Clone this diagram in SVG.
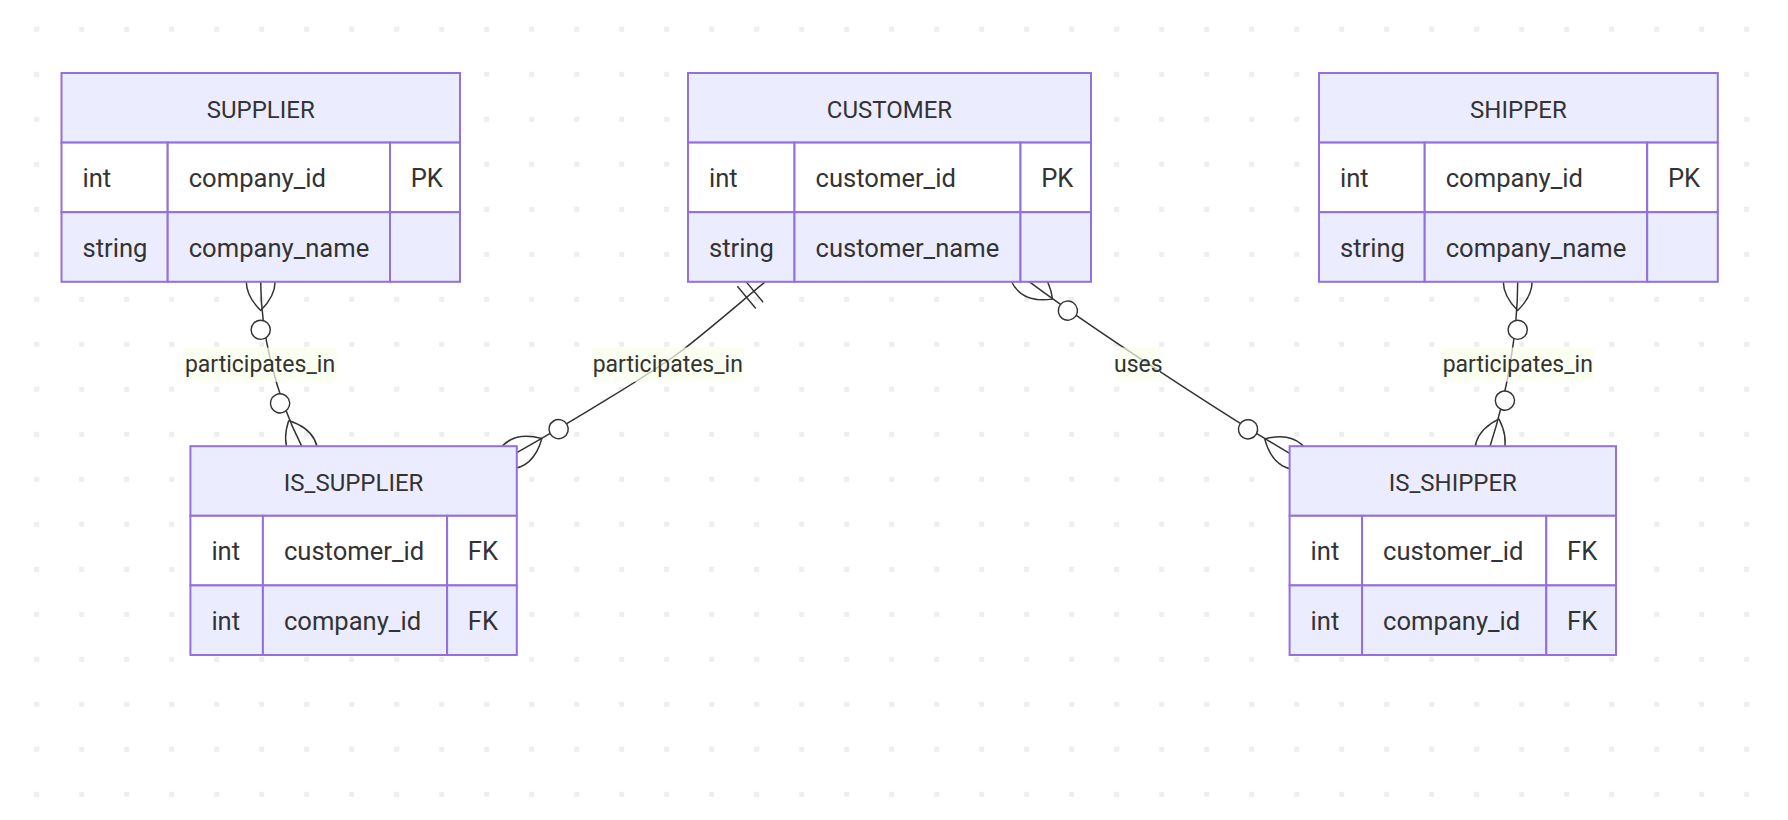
<svg xmlns="http://www.w3.org/2000/svg" width="1788" height="820" viewBox="0 0 1788 820">
<style>
.hdr{fill:#ECECFF;stroke:#9370DB;stroke-width:2}
.odd{fill:#ffffff;stroke:#9370DB;stroke-width:2}
.even{fill:#ECECFF;stroke:#9370DB;stroke-width:2}
.t{font-family:Roboto,"Noto Sans",sans-serif;font-size:25.6px;fill:#333333}
.h{font-family:Roboto,"Noto Sans",sans-serif;font-size:24px;fill:#333333;text-anchor:middle}
.rel{fill:none;stroke:#333333;stroke-width:1.5}
.lblbox{fill:#f9ffec;opacity:0.7}
.lbl{font-family:Roboto,"Noto Sans",sans-serif;font-size:23px;fill:#333333;text-anchor:middle}
.mk{fill:none;stroke:#333333;stroke-width:0.9}
.mkc{fill:#ffffff;stroke:#333333;stroke-width:0.9}
</style>
<defs>
<pattern id="dots" x="34.2" y="26.8" width="45" height="45" patternUnits="userSpaceOnUse">
<rect width="5" height="5" fill="#eeeeee"/>
</pattern>
<marker id="zomStart" viewBox="0 0 57 36" markerUnits="userSpaceOnUse" markerWidth="91.2" markerHeight="57.6" refX="18" refY="18" orient="auto" overflow="visible">
<circle class="mkc" cx="48" cy="18" r="6"/>
<path class="mk" d="M0,18 Q18,0 36,18 Q18,36 0,18"/>
</marker>
<marker id="zomEnd" viewBox="0 0 57 36" markerUnits="userSpaceOnUse" markerWidth="91.2" markerHeight="57.6" refX="39" refY="18" orient="auto" overflow="visible">
<circle class="mkc" cx="9" cy="18" r="6"/>
<path class="mk" d="M21,18 Q39,0 57,18 Q39,36 21,18"/>
</marker>
<marker id="oneStart" viewBox="0 0 18 18" markerUnits="userSpaceOnUse" markerWidth="28.8" markerHeight="28.8" refX="0" refY="9" orient="auto" overflow="visible">
<path class="mk" d="M9,0 L9,18 M15,0 L15,18"/>
</marker>
</defs>
<rect x="0" y="0" width="1788" height="820" fill="#ffffff"/>
<rect x="0" y="0" width="1788" height="820" fill="url(#dots)"/>

<g id="connectors">
<path class="rel" d="M260.7,281.8 C260.7,332 274.9,393.2 301.7,446.2" marker-start="url(#zomStart)" marker-end="url(#zomEnd)"/>
<path class="rel" d="M765,282 C735,307 705,333 680,352 S568.9,423.3 516.8,452.7" marker-start="url(#oneStart)" marker-end="url(#zomEnd)"/>
<path class="rel" d="M1029.5,281.8 C1085.4,323.8 1229,418.3 1289.6,453.3" marker-start="url(#zomStart)" marker-end="url(#zomEnd)"/>
<path class="rel" d="M1517.7,281.8 C1517.7,332 1507.2,393.5 1490,446.2" marker-start="url(#zomStart)" marker-end="url(#zomEnd)"/>
<rect class="lblbox" x="183.3" y="347.6" width="153.4" height="34.2"/>
<text class="lbl" x="260" y="372.3">participates_in</text>
<rect class="lblbox" x="591.7" y="347.5" width="152.3" height="34.2"/>
<text class="lbl" x="667.8" y="372.3">participates_in</text>
<rect class="lblbox" x="1116.7" y="347.5" width="43.3" height="34.2"/>
<text class="lbl" x="1138.3" y="372.3">uses</text>
<rect class="lblbox" x="1441.7" y="347.5" width="152.3" height="34.2"/>
<text class="lbl" x="1517.8" y="372.3">participates_in</text>
</g>

<g id="SUPPLIER">
<rect class="hdr" x="61.5" y="73" width="398.5" height="69.6"/>
<rect class="odd" x="61.5" y="142.6" width="106.2" height="69.6"/>
<rect class="odd" x="167.7" y="142.6" width="222.3" height="69.6"/>
<rect class="odd" x="390" y="142.6" width="70" height="69.6"/>
<rect class="even" x="61.5" y="212.2" width="106.2" height="69.6"/>
<rect class="even" x="167.7" y="212.2" width="222.3" height="69.6"/>
<rect class="even" x="390" y="212.2" width="70" height="69.6"/>
<text class="h" x="260.75" y="117.8">SUPPLIER</text>
<text class="t" x="82.5" y="186.9">int</text>
<text class="t" x="188.7" y="186.9">company_id</text>
<text class="t" x="410.7" y="186.9">PK</text>
<text class="t" x="82.5" y="256.5">string</text>
<text class="t" x="188.7" y="256.5">company_name</text>
</g>

<g id="CUSTOMER">
<rect class="hdr" x="688" y="73" width="403" height="69.6"/>
<rect class="odd" x="688" y="142.6" width="106.5" height="69.6"/>
<rect class="odd" x="794.5" y="142.6" width="226" height="69.6"/>
<rect class="odd" x="1020.5" y="142.6" width="70.5" height="69.6"/>
<rect class="even" x="688" y="212.2" width="106.5" height="69.6"/>
<rect class="even" x="794.5" y="212.2" width="226" height="69.6"/>
<rect class="even" x="1020.5" y="212.2" width="70.5" height="69.6"/>
<text class="h" x="889.5" y="117.8">CUSTOMER</text>
<text class="t" x="709" y="186.9">int</text>
<text class="t" x="815.5" y="186.9">customer_id</text>
<text class="t" x="1041.2" y="186.9">PK</text>
<text class="t" x="709" y="256.5">string</text>
<text class="t" x="815.5" y="256.5">customer_name</text>
</g>

<g id="SHIPPER">
<rect class="hdr" x="1319" y="73" width="398.8" height="69.6"/>
<rect class="odd" x="1319" y="142.6" width="105.7" height="69.6"/>
<rect class="odd" x="1424.7" y="142.6" width="222.5" height="69.6"/>
<rect class="odd" x="1647.2" y="142.6" width="70.6" height="69.6"/>
<rect class="even" x="1319" y="212.2" width="105.7" height="69.6"/>
<rect class="even" x="1424.7" y="212.2" width="222.5" height="69.6"/>
<rect class="even" x="1647.2" y="212.2" width="70.6" height="69.6"/>
<text class="h" x="1518.4" y="117.8">SHIPPER</text>
<text class="t" x="1340" y="186.9">int</text>
<text class="t" x="1445.7" y="186.9">company_id</text>
<text class="t" x="1667.9" y="186.9">PK</text>
<text class="t" x="1340" y="256.5">string</text>
<text class="t" x="1445.7" y="256.5">company_name</text>
</g>

<g id="IS_SUPPLIER">
<rect class="hdr" x="190.4" y="446.2" width="326.4" height="69.6"/>
<rect class="odd" x="190.4" y="515.8" width="72.5" height="69.6"/>
<rect class="odd" x="262.9" y="515.8" width="184.2" height="69.6"/>
<rect class="odd" x="447.1" y="515.8" width="69.7" height="69.6"/>
<rect class="even" x="190.4" y="585.4" width="72.5" height="69.6"/>
<rect class="even" x="262.9" y="585.4" width="184.2" height="69.6"/>
<rect class="even" x="447.1" y="585.4" width="69.7" height="69.6"/>
<text class="h" x="353.6" y="491">IS_SUPPLIER</text>
<text class="t" x="211.4" y="560.1">int</text>
<text class="t" x="283.9" y="560.1">customer_id</text>
<text class="t" x="467.8" y="560.1">FK</text>
<text class="t" x="211.4" y="629.7">int</text>
<text class="t" x="283.9" y="629.7">company_id</text>
<text class="t" x="467.8" y="629.7">FK</text>
</g>

<g id="IS_SHIPPER">
<rect class="hdr" x="1289.6" y="446.2" width="326.4" height="69.6"/>
<rect class="odd" x="1289.6" y="515.8" width="72.5" height="69.6"/>
<rect class="odd" x="1362.1" y="515.8" width="184.2" height="69.6"/>
<rect class="odd" x="1546.3" y="515.8" width="69.7" height="69.6"/>
<rect class="even" x="1289.6" y="585.4" width="72.5" height="69.6"/>
<rect class="even" x="1362.1" y="585.4" width="184.2" height="69.6"/>
<rect class="even" x="1546.3" y="585.4" width="69.7" height="69.6"/>
<text class="h" x="1452.8" y="491">IS_SHIPPER</text>
<text class="t" x="1310.6" y="560.1">int</text>
<text class="t" x="1383.1" y="560.1">customer_id</text>
<text class="t" x="1567" y="560.1">FK</text>
<text class="t" x="1310.6" y="629.7">int</text>
<text class="t" x="1383.1" y="629.7">company_id</text>
<text class="t" x="1567" y="629.7">FK</text>
</g>
</svg>
